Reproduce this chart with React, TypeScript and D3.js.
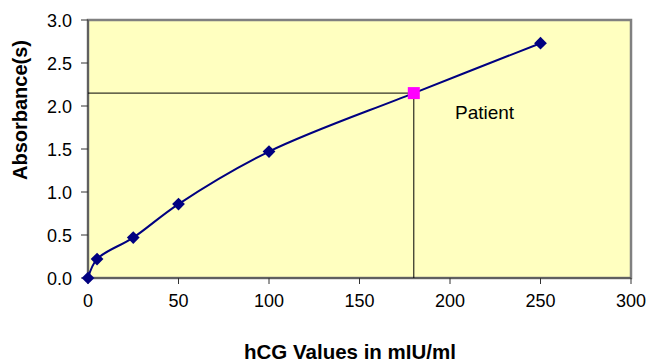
import React from "react";
import * as d3 from "d3";

const hcgValues = [0, 5, 25, 50, 100, 180, 250];
const absorbance = [0.0, 0.22, 0.47, 0.86, 1.47, 2.15, 2.73];
const standardIdx = [0, 1, 2, 3, 4, 6];
const patient = { x: 180, y: 2.15, label: "Patient" };
const xTicks = [0, 50, 100, 150, 200, 250, 300];
const yTicks = [0, 0.5, 1.0, 1.5, 2.0, 2.5, 3.0];

export default function App() {
  const W = 649, H = 362;
  const L = 88, R = 631, T = 20, B = 278;
  const x = d3.scaleLinear().domain([0, 300]).range([L, R]);
  const y = d3.scaleLinear().domain([0, 3]).range([B, T]);
  const pts = hcgValues.map((v, i) => [v, absorbance[i]] as [number, number]);
  const line = d3
    .line<[number, number]>()
    .x((d) => x(d[0]))
    .y((d) => y(d[1]))
    .curve(d3.curveCatmullRom.alpha(0.5));
  const font = "Arial, 'Liberation Sans', sans-serif";
  return (
    <svg width={W} height={H} style={{ position: "absolute", left: 0, top: 0 }} fontFamily={font}>
      <rect x={0} y={0} width={W} height={H} fill="#fff" />
      <rect x={L} y={T} width={R - L} height={B - T} fill="#FFFFC0" stroke="#808080" strokeWidth={2.5} />
      <line x1={L} x2={R} y1={B} y2={B} stroke="#606060" strokeWidth={2} />
      <line x1={L} x2={L} y1={T} y2={B} stroke="#606060" strokeWidth={2} />
      {yTicks.map((t) => (
        <g key={"y" + t}>
          <line x1={L - 7} x2={L} y1={y(t)} y2={y(t)} stroke="#333" />
          <text x={72} y={y(t) + 6.5} textAnchor="end" fontSize={18} fill="#000">
            {t.toFixed(1)}
          </text>
        </g>
      ))}
      {xTicks.map((t) => (
        <g key={"x" + t}>
          <line x1={x(t)} x2={x(t)} y1={B} y2={B + 6} stroke="#333" />
          <text x={x(t)} y={307} textAnchor="middle" fontSize={18} fill="#000">
            {t}
          </text>
        </g>
      ))}
      <line x1={L} x2={x(patient.x)} y1={y(patient.y)} y2={y(patient.y)} stroke="#000" strokeWidth={1} />
      <line x1={x(patient.x)} x2={x(patient.x)} y1={y(patient.y)} y2={B} stroke="#000" strokeWidth={1} />
      <path d={line(pts) || ""} fill="none" stroke="#000080" strokeWidth={2} />
      {standardIdx.map((i) => (
        <rect
          key={i}
          x={x(hcgValues[i]) - 4.5}
          y={y(absorbance[i]) - 4.5}
          width={9}
          height={9}
          fill="#000080"
          transform={`rotate(45 ${x(hcgValues[i])} ${y(absorbance[i])})`}
        />
      ))}
      <rect x={x(patient.x) - 6} y={y(patient.y) - 6} width={12} height={12} fill="#FF00FF" />
      <text x={455} y={119} fontSize={19} fill="#000">
        {patient.label}
      </text>
      <text
        transform={`translate(27 110) rotate(-90)`}
        textAnchor="middle"
        fontSize={20}
        fontWeight="bold"
        fill="#000"
      >
        Absorbance(s)
      </text>
      <text x={350} y={359} textAnchor="middle" fontSize={20.5} fontWeight="bold" fill="#000">
        hCG Values in mIU/ml
      </text>
    </svg>
  );
}
